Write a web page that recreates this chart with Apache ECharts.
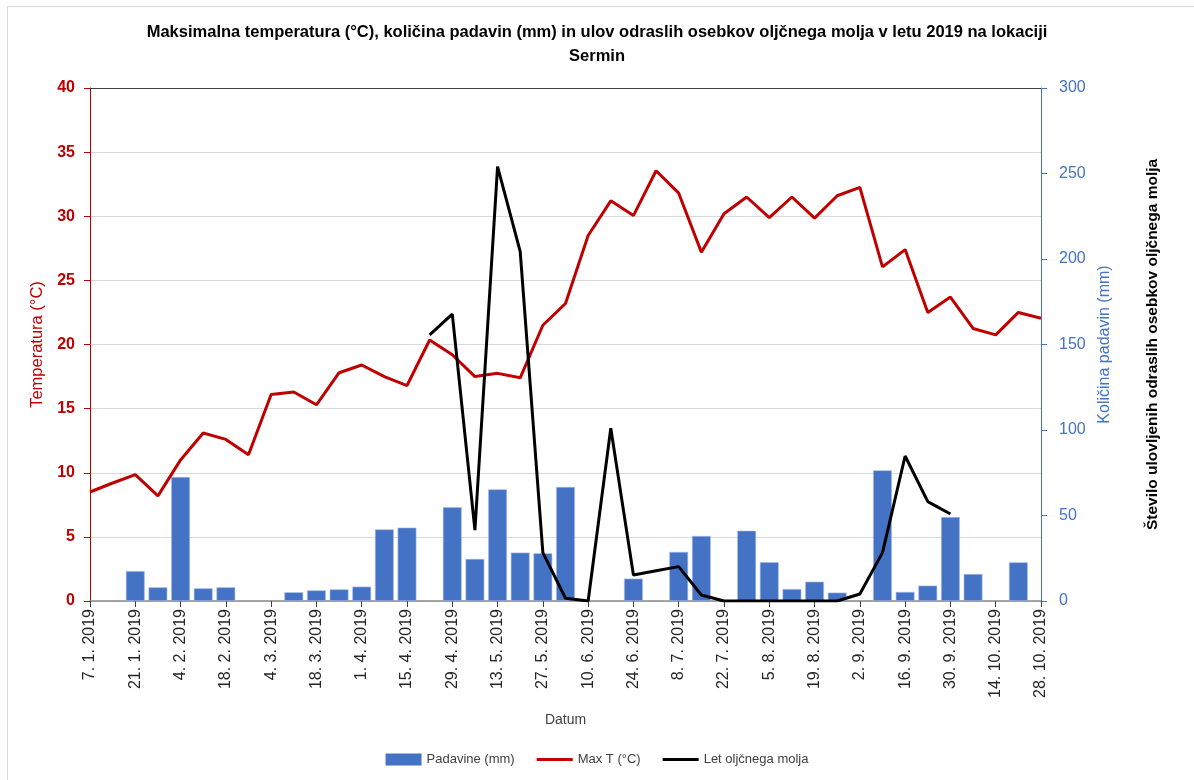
<!DOCTYPE html>
<html>
<head>
<meta charset="utf-8">
<script src="https://cdn.jsdelivr.net/npm/echarts@6/dist/echarts.min.js"></script>
<style>
  html, body { margin: 0; padding: 0; background: #fff; }
  #chart { width: 1194px; height: 780px; }
</style>
</head>
<body>
<div id="chart"></div>
<script>
// weekly dates, 7.1. - 28.10.2019
var dates = ['7. 1. 2019', '14. 1. 2019', '21. 1. 2019', '28. 1. 2019', '4. 2. 2019', '11. 2. 2019',
    '18. 2. 2019', '25. 2. 2019', '4. 3. 2019', '11. 3. 2019', '18. 3. 2019', '25. 3. 2019',
    '1. 4. 2019', '8. 4. 2019', '15. 4. 2019', '22. 4. 2019', '29. 4. 2019', '6. 5. 2019',
    '13. 5. 2019', '20. 5. 2019', '27. 5. 2019', '3. 6. 2019', '10. 6. 2019', '17. 6. 2019',
    '24. 6. 2019', '1. 7. 2019', '8. 7. 2019', '15. 7. 2019', '22. 7. 2019', '29. 7. 2019',
    '5. 8. 2019', '12. 8. 2019', '19. 8. 2019', '26. 8. 2019', '2. 9. 2019', '9. 9. 2019',
    '16. 9. 2019', '23. 9. 2019', '30. 9. 2019', '7. 10. 2019', '14. 10. 2019', '21. 10. 2019',
    '28. 10. 2019'];

// Padavine (mm)
var padavine = [null, null, 17.5, 8.0, 72.5, 7.4, 8.0, null, null, 5.1, 6.2, 6.8,
    8.4, 41.9, 42.9, null, 54.8, 24.6, 65.3, 28.3, 27.9, 66.7, null, null,
    13.1, null, 28.7, 38.0, null, 41.1, 22.7, 7.0, 11.3, 4.9, null, 76.4,
    5.3, 9.0, 49.1, 15.8, null, 22.6, null];

// Max T (°C)
var maxT = [8.5, 9.2, 9.85, 8.2, 11.0, 13.1, 12.6, 11.4, 16.1, 16.3, 15.3, 17.8,
    18.4, 17.5, 16.8, 20.35, 19.2, 17.5, 17.75, 17.4, 21.5, 23.2, 28.5, 31.2,
    30.05, 33.55, 31.8, 27.2, 30.2, 31.5, 29.9, 31.5, 29.85, 31.6, 32.25, 26.05,
    27.4, 22.5, 23.7, 21.25, 20.75, 22.5, 22.05];

// Let oljčnega molja (ulov)
var moljLet = [null, null, null, null, null, null, null, null, null, null, null, null,
    null, null, null, 155.6, 167.8, 41.5, 254, 204.3, 28.3, 1.6, 0, 101,
    15.2, 17.7, 20.1, 3.5, 0, 0, 0, 0, 0, 0, 4.1, 28.3,
    84.8, 58.1, 50.9, null, null, null, null];

var tempTicks = [0, 40, 5];
var padTicks = [0, 300, 50];

var chart = echarts.init(document.getElementById('chart'));
var font = 'Liberation Sans';
var lineIcon = 'path://M0,0 L36,0 L36,3 L0,3 Z';

var option = {
    backgroundColor: '#fff',
    animation: false,
    textStyle: { fontFamily: font },
    title: {
        text: 'Maksimalna temperatura (°C), količina padavin (mm) in ulov odraslih osebkov oljčnega molja v letu 2019 na lokaciji\nSermin',
        left: 'center',
        top: 15,
        textStyle: { fontSize: 16.5, fontWeight: 'bold', color: '#000', lineHeight: 24, fontFamily: font }
    },
    graphic: [{
        type: 'rect',
        shape: { x: 7.5, y: 6.5, width: 1200, height: 790 },
        style: { fill: 'none', stroke: '#d9d9d9', lineWidth: 1 },
        silent: true
    }],
    legend: {
        bottom: 9,
        left: 'center',
        itemGap: 22,
        itemWidth: 36,
        itemHeight: 12,
        textStyle: { fontSize: 13, color: '#404040', fontFamily: font },
        data: [
            { name: 'Padavine (mm)', icon: 'rect', itemStyle: { borderWidth: 0 } },
            { name: 'Max T (°C)', icon: lineIcon },
            { name: 'Let oljčnega molja', icon: lineIcon }
        ]
    },
    grid: { left: 90, right: 153, top: 88, bottom: 179 },
    xAxis: [{
        type: 'category',
        data: dates,
        boundaryGap: false,
        name: 'Datum',
        nameLocation: 'middle',
        nameGap: 112,
        nameTextStyle: { fontSize: 14, color: '#404040' },
        axisLine: { lineStyle: { color: '#898989', width: 1.5 } },
        axisTick: { interval: 1, length: 6, lineStyle: { color: '#404040' } },
        axisLabel: { interval: 1, rotate: 90, fontSize: 16, color: '#262626', margin: 8 },
        splitLine: { show: false }
    }, {
        type: 'category',
        data: dates,
        position: 'top',
        boundaryGap: false,
        axisLine: { show: true, onZero: false, lineStyle: { color: '#404040', width: 1.2 } },
        axisTick: { show: false },
        axisLabel: { show: false }
    }],
    yAxis: [{
        type: 'value',
        min: tempTicks[0],
        max: tempTicks[1],
        interval: tempTicks[2],
        name: 'Temperatura (°C)',
        nameLocation: 'middle',
        nameGap: 40,
        nameTextStyle: { fontSize: 16.5, color: '#c00000' },
        axisLine: { show: true, lineStyle: { color: '#c00000' } },
        axisTick: { show: true, length: 6, lineStyle: { color: '#c00000' } },
        axisLabel: { fontSize: 16, fontWeight: 'bold', color: '#c00000', margin: 15 },
        splitLine: { lineStyle: { color: '#d9d9d9' } }
    }, {
        type: 'value',
        position: 'right',
        min: padTicks[0],
        max: padTicks[1],
        interval: padTicks[2],
        name: 'Količina padavin (mm)',
        nameLocation: 'middle',
        nameGap: 56,
        nameRotate: 90,
        nameTextStyle: { fontSize: 16, color: '#4472c4' },
        axisLine: { show: true, lineStyle: { color: '#4472c4' } },
        axisTick: { show: true, length: 6, lineStyle: { color: '#4472c4' } },
        axisLabel: { fontSize: 16, color: '#4472c4', margin: 18 },
        splitLine: { show: false }
    }, {
        type: 'value',
        position: 'right',
        min: padTicks[0],
        max: padTicks[1],
        name: 'Število ulovljenih odraslih osebkov oljčnega molja',
        nameLocation: 'middle',
        nameGap: 104,
        nameRotate: 90,
        nameTextStyle: { fontSize: 15.5, fontWeight: 'bold', color: '#000' },
        axisLine: { show: false },
        axisTick: { show: false },
        axisLabel: { show: false },
        splitLine: { show: false }
    }],
    series: [{
        name: 'Padavine (mm)',
        type: 'bar',
        yAxisIndex: 1,
        barCategoryGap: '17%',
        itemStyle: { color: '#4472c4', borderColor: '#a9bfe6', borderWidth: 0.6 },
        data: padavine
    }, {
        name: 'Max T (°C)',
        type: 'line',
        yAxisIndex: 0,
        symbol: 'none',
        lineStyle: { color: '#c00000', width: 3 },
        itemStyle: { color: '#c00000' },
        data: maxT
    }, {
        name: 'Let oljčnega molja',
        type: 'line',
        yAxisIndex: 2,
        symbol: 'none',
        connectNulls: false,
        lineStyle: { color: '#000', width: 3 },
        itemStyle: { color: '#000' },
        data: moljLet
    }]
};

chart.setOption(option);
</script>
</body>
</html>
